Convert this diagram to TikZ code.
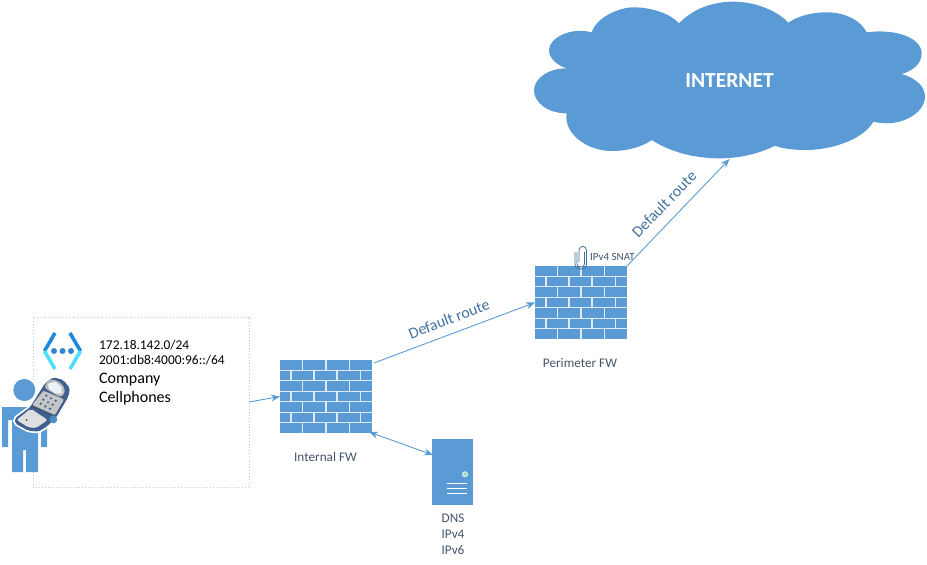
\documentclass[tikz,border=0pt]{standalone}
\usepackage{fontspec}
\setmainfont{Carlito}
\usetikzlibrary{arrows.meta,calc}
\definecolor{azblue}{HTML}{5B9BD5}
\definecolor{labelblue}{HTML}{41719C}
\definecolor{caption}{HTML}{44546A}
\definecolor{vnettop}{HTML}{1E88DC}
\definecolor{vnetlow}{HTML}{50E0FF}
\definecolor{vnetdot}{HTML}{2F86D8}
\definecolor{phonebody}{HTML}{3F5F8F}
\definecolor{dotline}{HTML}{BCCFE4}
\tikzset{
  fwbox/.style={rectangle,fill=azblue,minimum width=92pt,minimum height=73pt,inner sep=0pt,outer sep=0pt},
  brick/.style={draw=white,draw opacity=.8,line width=1.1pt},
  link/.style={draw=azblue,line width=.9pt,-{Stealth[length=9pt,width=7pt]}},
  biglink/.style={draw=azblue,line width=.9pt,{Stealth[length=9pt,width=7pt]}-{Stealth[length=9pt,width=7pt]}},
  routetext/.style={text=labelblue,font=\fontsize{15.8}{18}\selectfont,inner sep=0pt},
  captext/.style={text=caption,font=\fontsize{13.2}{15}\selectfont,inner sep=0pt},
  subnet/.style={text=black,anchor=base west,inner sep=0pt,font=\fontsize{13.4}{15}\selectfont},
  company/.style={text=black,anchor=base west,inner sep=0pt,font=\fontsize{16}{18}\selectfont}
}
\newcommand{\fwbricks}[1]{%
  \begin{scope}[shift={(#1.north west)}]
    \foreach \r in {1,...,6} \draw[brick] (0,{\r*73/7}) -- (92,{\r*73/7});
    \foreach \r in {0,2,4,6} \foreach \v in {22.5,46,69.2}
      \draw[brick] (\v,{\r*73/7}) -- (\v,{(\r+1)*73/7});
    \foreach \r in {1,3,5} \foreach \v in {11,34,57,80.7}
      \draw[brick] (\v,{\r*73/7}) -- (\v,{(\r+1)*73/7});
  \end{scope}}
\begin{document}
\begin{tikzpicture}[x=1pt,y=-1pt]
\useasboundingbox (0,0) rectangle (927,565);
% cloud
\begin{scope}[shift={(530,0)},x=.33333pt,y=-.33333pt]
\fill[azblue] (185,97)
 .. controls (200,50) and (270,22) .. (310,22)
 .. controls (380,22) and (430,50) .. (447,70)
 .. controls (490,25) and (550,5) .. (610,5)
 .. controls (680,5) and (745,35) .. (775,68)
 .. controls (810,45) and (850,37) .. (890,37)
 .. controls (950,37) and (995,65) .. (1010,97)
 .. controls (1100,85) and (1175,115) .. (1175,160)
 .. controls (1175,190) and (1150,212) .. (1115,222)
 .. controls (1160,235) and (1185,260) .. (1185,290)
 .. controls (1185,340) and (1110,385) .. (1030,365)
 .. controls (1000,420) and (900,450) .. (830,450)
 .. controls (795,450) and (760,447) .. (735,437)
 .. controls (690,460) and (630,475) .. (570,475)
 .. controls (490,475) and (420,455) .. (365,420)
 .. controls (335,442) and (290,453) .. (245,453)
 .. controls (170,453) and (100,400) .. (110,340)
 .. controls (50,340) and (12,305) .. (12,272)
 .. controls (12,235) and (55,205) .. (110,205)
 .. controls (80,195) and (57,175) .. (57,150)
 .. controls (57,115) and (120,80) .. (185,97) -- cycle;
\end{scope}
\node[minimum width=391pt,minimum height=157pt,inner sep=0pt,outer sep=0pt,text=white,font=\fontsize{21.5}{24}\selectfont\bfseries] (internet) at (729.5,80.5) {INTERNET};
% subnet box
\node[rectangle,draw=dotline,dotted,line width=.9pt,minimum width=216pt,minimum height=170pt,inner sep=0pt,outer sep=0pt] (subnetbox) at (141,402) {};
% firewalls
\node[fwbox] (intfw) at (326,396.5) {};
\fwbricks{intfw}
\node[fwbox] (perfw) at (581,302.5) {};
\fwbricks{perfw}
% server
\node[rectangle,fill=azblue,minimum width=41pt,minimum height=66pt,inner sep=0pt,outer sep=0pt] (dns) at (452.5,472) {};
\fill[azblue!60!green!50!white,draw=white,line width=.6pt] (465,474.3) circle (2.6);
\foreach \ly in {483,488,493} \draw[white,line width=1pt] (447,\ly) -- (467,\ly);
% network icon
\draw[vnettop,line width=3.6pt] (55,333) -- (44.5,351);
\draw[vnetlow,line width=3.6pt] (44.5,351) -- (55,369);
\draw[vnettop,line width=3.6pt] (70,333) -- (80.5,351);
\draw[vnetlow,line width=3.6pt] (80.5,351) -- (70,369);
\foreach \dx in {54,62.5,71} \fill[vnetdot] (\dx,351) circle (3);
% person
\fill[azblue] (24.3,390) circle (11);
\fill[azblue] (2,407) -- (47,407) -- (47,447) -- (41,447) -- (41,420) -- (38,420) -- (38,472) -- (26,472) -- (26,450) -- (23,450) -- (23,472) -- (12,472) -- (12,420) -- (8,420) -- (8,447) -- (2,447) -- cycle;
% phone
\begin{scope}[shift={(0,370)},x=.33333pt,y=-.33333pt]
\draw[white,line width=3.5pt,fill=white,rounded corners=2pt] (135,40) -- (160,22) -- (190,30) -- (210,55) -- (205,80) -- (170,140) -- (140,170) -- (115,185) -- (85,182) -- (45,160) -- (45,145) -- (90,112) -- cycle;
\fill[rounded corners=2pt,color=phonebody] (135,40) -- (160,22) -- (190,30) -- (210,55) -- (205,80) -- (170,140) -- (140,170) -- (115,185) -- (85,182) -- (45,160) -- (45,145) -- (90,112) -- cycle;
\fill[rounded corners=2pt,color=gray!25] (50,150) -- (92,116) -- (143,150) -- (108,174) -- (85,172) -- cycle;
\fill[black!70] (80,150) circle (3);
\fill[rounded corners=1pt,color=gray!45] (130,62) -- (192,88) -- (165,135) -- (97,105) -- cycle;
\fill[color=gray!55,rounded corners=4pt] (130,52) -- (150,26) -- (182,36) -- (198,62) -- (184,84) -- cycle;
\fill[rounded corners=6pt,color=white!88!azblue] (137,52) -- (155,31) -- (178,41) -- (191,63) -- (180,78) -- cycle;
\foreach \kx/\ky in {139/77,153/85,167/92,130/89,144/97,158/104,122/101,136/109,150/116}
  \fill[azblue!70!black] (\kx,\ky) circle (4);
\draw[black!70,line width=.6pt] (96,108) -- (163,140);
\fill[azblue!90!black] (160,148) circle (12);
\end{scope}
% subnet text
\node[subnet] (addrfour) at (99,349) {172.18.142.0/24};
\node[subnet] (addrsix) at (99,364.5) {2001:db8:4000:96::/64};
\node[company] (companyword) at (99,383.5) {Company};
\node[company] (cellword) at (99,402) {Cellphones};
% captions
\node[captext] (intcap) at (325.5,457) {Internal FW};
\node[captext] (percap) at (580,363) {Perimeter FW};
\node[captext] (dnsa) at (453,518.5) {DNS};
\node[captext] (dnsb) at (453,534.5) {IPv4};
\node[captext] (dnsc) at (453,550.5) {IPv6};
\node[anchor=west,text=caption,font=\fontsize{11}{12}\selectfont,inner sep=0pt] (snat) at (590,257) {IPv4 SNAT};
% clip
\draw[labelblue,line width=.8pt] (579,262) -- (579,250.5) .. controls (579,245) and (586.5,245) .. (586.5,250.5) -- (586.5,264) .. controls (586.5,271) and (575,271) .. (575,264) -- (575,252);
\draw[labelblue,line width=.8pt] (577,252) -- (577,264) .. controls (577,268) and (584.5,268) .. (584.5,264) -- (584.5,252);
% connectors
\draw[link] (subnetbox.east) -- (intfw.west);
\draw[link] ($(intfw.north east)+(2,3)$) -- (perfw.west);
\draw[link] (perfw.north east) -- (internet.south);
\draw[biglink] ($(intfw.south east)+(-3,-1)$) -- ($(dns.north west)+(1,16)$);
\node[routetext,rotate=21] (routea) at (449,319) {Default route};
\node[routetext,rotate=46] (routeb) at (664,204) {Default route};
\end{tikzpicture}
\end{document}
